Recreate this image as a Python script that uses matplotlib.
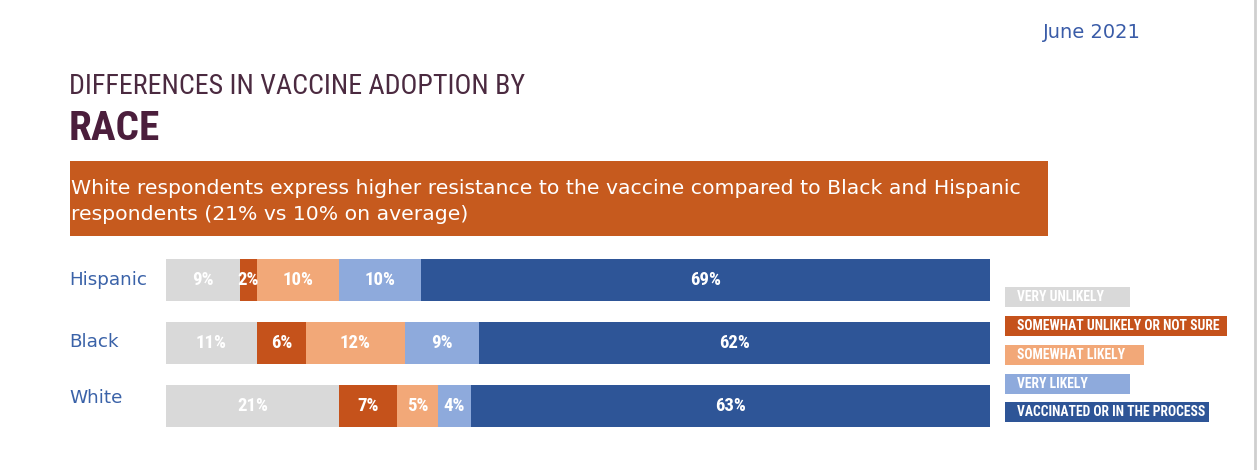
import matplotlib
matplotlib.use("Agg")
import matplotlib.pyplot as plt
import matplotlib.transforms as mtrans
from matplotlib.patches import Rectangle

categories = ["Hispanic", "Black", "White"]
series_names = ["VERY UNLIKELY", "SOMEWHAT UNLIKELY OR NOT SURE", "SOMEWHAT LIKELY",
                "VERY LIKELY", "VACCINATED OR IN THE PROCESS"]
very_unlikely = [9, 11, 21]
somewhat_unlikely = [2, 6, 7]
somewhat_likely = [10, 12, 5]
very_likely = [10, 9, 4]
vaccinated = [69, 62, 63]
series = [very_unlikely, somewhat_unlikely, somewhat_likely, very_likely, vaccinated]
colors = ["#d9d9d9", "#c5521b", "#f2a878", "#8eaadc", "#2e5597"]

NARROW = ["Roboto Condensed", "Liberation Sans Narrow", "Roboto", "DejaVu Sans"]

W, H = 1259, 470
fig = plt.figure(figsize=(W / 100, H / 100), dpi=100)
fig.patch.set_facecolor("white")
renderer = fig.canvas.get_renderer()


def fx(px):
    return px / W


def fy(py):
    return 1 - py / H


def fit(text_artist, target_px):
    """Shrink/grow a text so that its width matches target_px."""
    w = text_artist.get_window_extent(renderer).width
    text_artist.set_fontsize(text_artist.get_fontsize() * target_px / w)


# Header texts
fig.text(fx(1043), fy(32), "June 2021", color="#3a5ca8", fontsize=14,
         family="DejaVu Sans", ha="left", va="center")
t = fig.text(fx(69), fy(87), "DIFFERENCES IN VACCINE ADOPTION BY", color="#4b2a40",
             fontsize=20, family=NARROW, ha="left", va="center")
fit(t, 456)
t = fig.text(fx(69), fy(129), "RACE", color="#4b1e3c", fontsize=29, family=NARROW,
             fontweight="bold", ha="left", va="center")
fit(t, 91)

# Banner
fig.patches.append(Rectangle((fx(70), fy(236)), fx(1048) - fx(70), fy(161) - fy(236),
                             transform=fig.transFigure, facecolor="#c65a1e",
                             edgecolor="none", zorder=0))
t1 = fig.text(fx(71), fy(188), "White respondents express higher resistance to the vaccine compared to Black and Hispanic",
              color="white", fontsize=14.6, family="DejaVu Sans", ha="left", va="center")
fit(t1, 951)
fig.text(fx(71), fy(215), "respondents (21% vs 10% on average)",
         color="white", fontsize=t1.get_fontsize(), family="DejaVu Sans", ha="left", va="center")

# right frame line
fig.add_artist(plt.Line2D([fx(1255), fx(1255)], [fy(0), fy(470)],
                          transform=fig.transFigure, color="#cfcfcf", lw=2))

# Bars
top_px, bottom_px = 248.5, 437.5
ax = fig.add_axes([fx(166), fy(bottom_px), fx(990) - fx(166), (bottom_px - top_px) / H])
ax.set_xlim(0, 100)
ax.set_ylim(2.5, -0.5)
ax.axis("off")

ypos = list(range(len(categories)))
left = [0] * len(categories)
for vals, col in zip(series, colors):
    ax.barh(ypos, vals, left=left, height=0.67, color=col, edgecolor="none")
    for i, v in enumerate(vals):
        ax.text(left[i] + v / 2, ypos[i], f"{v}%", color="white", fontsize=13.5,
                family=NARROW, fontweight="bold", ha="center", va="center")
    left = [l + v for l, v in zip(left, vals)]

tr = mtrans.blended_transform_factory(fig.transFigure, ax.transData)
label_offsets = [0.0, -0.02, -0.12]
for i, c in enumerate(categories):
    ax.text(fx(69), ypos[i] + label_offsets[i], c, transform=tr, color="#3a62a8",
            fontsize=13.2, family="DejaVu Sans", ha="left", va="center")

# Legend
leg_y = [297, 326, 355, 384, 412]
leg_w = [125, 222, 139, 125, 204]
leg_texts = []
for name, col, yc, w in zip(series_names, colors, leg_y, leg_w):
    fig.patches.append(Rectangle((fx(1005), fy(yc + 10)), fx(w), 20 / H,
                                 transform=fig.transFigure, facecolor=col,
                                 edgecolor="none"))
    leg_texts.append(fig.text(fx(1017), fy(yc), name, color="white", fontsize=10,
                              family=NARROW, fontweight="bold", ha="left", va="center"))
fit(leg_texts[1], 202)
for lt in leg_texts:
    lt.set_fontsize(leg_texts[1].get_fontsize())

fig.savefig("out.png", dpi=100, facecolor="white")
